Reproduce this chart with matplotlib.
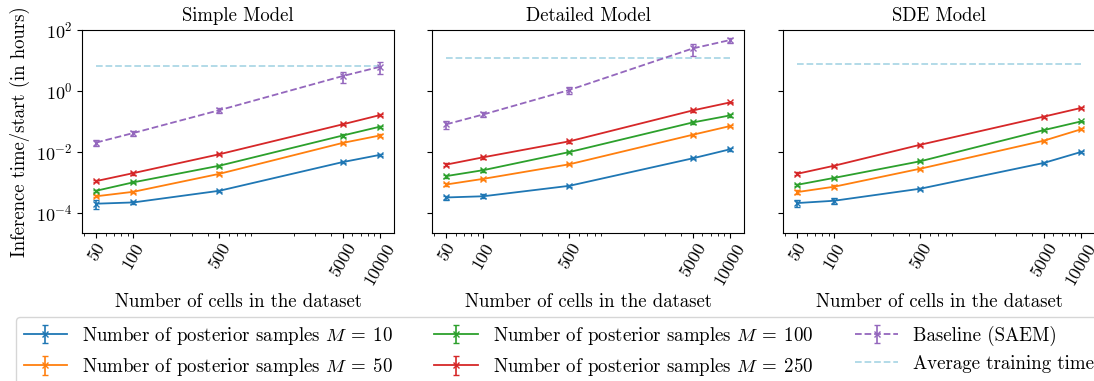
import matplotlib
matplotlib.use("Agg")
import matplotlib.pyplot as plt
from matplotlib.ticker import LogLocator, NullLocator, NullFormatter, FixedLocator
import numpy as np

plt.rcParams['font.family'] = 'serif'
plt.rcParams['font.serif'] = ['cmr10']
plt.rcParams['mathtext.fontset'] = 'cm'
plt.rcParams['axes.formatter.use_mathtext'] = True
plt.rcParams['axes.unicode_minus'] = False

cells = [50, 100, 500, 5000, 10000]
titles = ["Simple Model", "Detailed Model", "SDE Model"]
M_values = [10, 50, 100, 250]

# Simple model
simple_M10 = [2.0e-4, 2.2e-4, 5.3e-4, 4.6e-3, 7.9e-3]
simple_M50 = [3.5e-4, 4.9e-4, 1.9e-3, 1.95e-2, 3.4e-2]
simple_M100 = [5.3e-4, 1.0e-3, 3.5e-3, 3.4e-2, 6.6e-2]
simple_M250 = [1.1e-3, 2.0e-3, 8.3e-3, 7.9e-2, 0.158]
simple_M10_err = [0.7e-4, 0.2e-4, 0.5e-4, 0.4e-3, 0.7e-3]
simple_M50_err = [0.3e-4, 0.4e-4, 0.2e-3, 0.2e-2, 0.3e-2]
simple_M100_err = [0.4e-4, 0.8e-4, 0.3e-3, 0.3e-2, 0.5e-2]
simple_M250_err = [0.1e-3, 0.2e-3, 0.7e-3, 0.6e-2, 0.012]
simple_base = [0.020, 0.041, 0.23, 3.0, 6.0]
simple_base_err = [0.004, 0.007, 0.04, 1.2, 2.5]
simple_train = 6.3

# Detailed model
detailed_M10 = [3.2e-4, 3.5e-4, 7.7e-4, 6.1e-3, 1.2e-2]
detailed_M50 = [8.5e-4, 1.3e-3, 3.9e-3, 3.6e-2, 6.9e-2]
detailed_M100 = [1.6e-3, 2.5e-3, 9.8e-3, 9.1e-2, 0.154]
detailed_M250 = [3.8e-3, 6.6e-3, 2.2e-2, 0.225, 0.41]
detailed_M10_err = [0.5e-4, 0.5e-4, 0.6e-4, 0.5e-3, 0.1e-2]
detailed_M50_err = [0.8e-4, 0.1e-3, 0.3e-3, 0.3e-2, 0.5e-2]
detailed_M100_err = [0.2e-3, 0.3e-3, 0.8e-3, 0.7e-2, 0.012]
detailed_M250_err = [0.4e-3, 0.7e-3, 0.2e-2, 0.018, 0.03]
detailed_base = [0.079, 0.166, 1.05, 24.0, 45.0]
detailed_base_err = [0.025, 0.03, 0.3, 10.0, 8.0]
detailed_train = 11.7

# SDE model
sde_M10 = [2.1e-4, 2.5e-4, 6.2e-4, 4.3e-3, 9.8e-3]
sde_M50 = [4.8e-4, 7.2e-4, 2.8e-3, 2.3e-2, 5.4e-2]
sde_M100 = [8.3e-4, 1.4e-3, 4.9e-3, 5.1e-2, 9.8e-2]
sde_M250 = [1.9e-3, 3.5e-3, 1.7e-2, 0.141, 0.27]
sde_M10_err = [0.5e-4, 0.5e-4, 0.5e-4, 0.3e-3, 0.7e-3]
sde_M50_err = [0.7e-4, 0.7e-4, 0.2e-3, 0.2e-2, 0.4e-2]
sde_M100_err = [0.7e-4, 0.1e-3, 0.4e-3, 0.4e-2, 0.7e-2]
sde_M250_err = [0.2e-3, 0.3e-3, 0.15e-2, 0.011, 0.02]
sde_train = 7.3

models = [
    ([simple_M10, simple_M50, simple_M100, simple_M250],
     [simple_M10_err, simple_M50_err, simple_M100_err, simple_M250_err],
     simple_base, simple_base_err, simple_train),
    ([detailed_M10, detailed_M50, detailed_M100, detailed_M250],
     [detailed_M10_err, detailed_M50_err, detailed_M100_err, detailed_M250_err],
     detailed_base, detailed_base_err, detailed_train),
    ([sde_M10, sde_M50, sde_M100, sde_M250],
     [sde_M10_err, sde_M50_err, sde_M100_err, sde_M250_err],
     None, None, sde_train),
]

colors = ['C0', 'C1', 'C2', 'C3']
W, H = 1094, 381
fig = plt.figure(figsize=(W / 100, H / 100), dpi=100)

fs = 13.5
tfs = 13
lefts = [82, 432, 783]
axw = 312
bottom_px, top_px = 233, 29.5
axes = []
for i, lp in enumerate(lefts):
    ax = fig.add_axes([lp / W, (H - bottom_px) / H, axw / W, (bottom_px - top_px) / H],
                      sharey=axes[0] if axes else None)
    axes.append(ax)

handles = None
for i, (ax, (Ms, errs, base, base_err, train)) in enumerate(zip(axes, models)):
    hs = []
    for m, vals, e, c in zip(M_values, Ms, errs, colors):
        h = ax.errorbar(cells, vals, yerr=e, color=c, marker='x', markersize=4,
                        capsize=2, lw=1.3, elinewidth=1.2,
                        label=r"Number of posterior samples $M\:=\:%d$" % m)
        hs.append(h)
    if base is not None:
        hb = ax.errorbar(cells, base, yerr=base_err, color='C4', marker='x', markersize=4,
                         capsize=2, lw=1.3, elinewidth=1.2, ls='--', label='Baseline (SAEM)')
    hl, = ax.plot([cells[0], cells[-1]], [train, train], color='lightblue', ls='--', lw=1.3,
                  label='Average training time')
    if i == 0:
        handles = hs + [hb, hl]
    ax.set_xscale('log')
    ax.set_yscale('log')
    ax.set_ylim(2.2e-5, 1e2)
    ax.set_xticks(cells)
    ax.set_xticklabels([str(c) for c in cells], rotation=60, fontsize=tfs)
    ax.xaxis.set_minor_locator(LogLocator(base=10, subs=np.arange(2, 10)))
    ax.xaxis.set_minor_formatter(NullFormatter())
    ax.yaxis.set_major_locator(FixedLocator([1e-4, 1e-2, 1e0, 1e2]))
    ax.yaxis.set_minor_locator(NullLocator())
    ax.tick_params(axis='both', labelsize=tfs)
    ax.tick_params(axis='x', pad=2)
    ax.set_title(titles[i], fontsize=fs)
    ax.set_xlabel("Number of cells in the dataset", fontsize=fs)
    if i > 0:
        plt.setp(ax.get_yticklabels(), visible=False)

axes[0].set_ylabel("Inference time/start (in hours)", fontsize=fs)

labels = [h.get_label() for h in handles]
fig.legend(handles, labels, loc='upper left', bbox_to_anchor=(16 / W, (H - 317) / H),
           ncol=3, fontsize=13.6, frameon=True, handlelength=2.3,
           columnspacing=2.2, borderpad=0.4, borderaxespad=0)

fig.savefig("out.png", dpi=100)
